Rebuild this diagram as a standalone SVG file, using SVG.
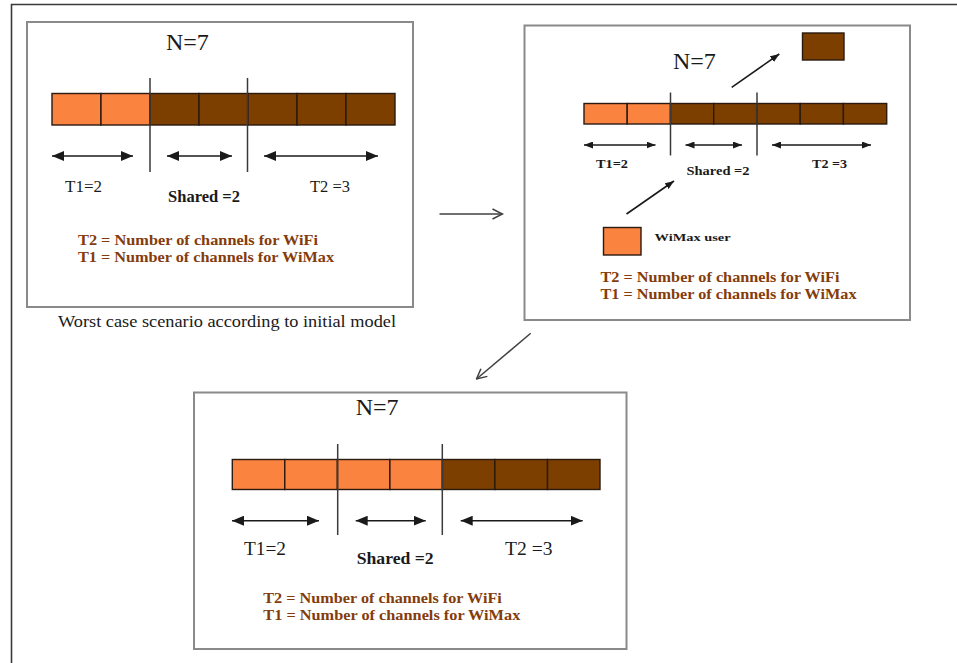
<svg xmlns="http://www.w3.org/2000/svg" width="957" height="663" viewBox="0 0 957 663">
  <defs>
    <style>
      .frame { fill: none; stroke: #3a3a3a; stroke-width: 1.6; }
      .panel { fill: #ffffff; stroke: #8a8a8a; stroke-width: 2; }
      .wimax { fill: #fb8340; stroke: #2a1a10; stroke-width: 1.4; }
      .wifi { fill: #7c3f00; stroke: #2a1a10; stroke-width: 1.4; }
      .div { stroke: #3a3a3a; stroke-width: 1.5; }
      .span { stroke: #1a1a1a; stroke-width: 1.6; fill: none; }
      .link { stroke: #404040; stroke-width: 1.5; fill: none; }
      text { font-family: 'Liberation Serif', 'DejaVu Serif', serif; }
      .big { font-size: 24px; fill: #1a1a1a; }
      .lbl { fill: #1a1a1a; }
      .bold { font-weight: bold; fill: #1a1a1a; }
      .legend { font-weight: bold; font-size: 15px; fill: #843c0c; }
    </style>
    <marker id="tipL" viewBox="0 0 12 10" refX="12" refY="5" markerWidth="12" markerHeight="10" markerUnits="userSpaceOnUse" orient="auto-start-reverse">
      <path d="M0,0 L12,5 L0,10 z" fill="#1a1a1a"/>
    </marker>
    <marker id="tipS" viewBox="0 0 9 7" refX="9" refY="3.5" markerWidth="9" markerHeight="7" markerUnits="userSpaceOnUse" orient="auto-start-reverse">
      <path d="M0,0 L9,3.5 L0,7 z" fill="#1a1a1a"/>
    </marker>
    <marker id="chev" viewBox="0 0 12 12" refX="11" refY="6" markerWidth="12" markerHeight="12" markerUnits="userSpaceOnUse" orient="auto">
      <path d="M1,1 L11,6 L1,11" fill="none" stroke="#404040" stroke-width="1.5"/>
    </marker>
  </defs>

  <rect width="957" height="663" fill="#ffffff"/>
  <!-- outer frame, open on the right and bottom -->
  <path class="frame" d="M11.5,663 V4.5 H957"/>

  <!-- Panel 1: initial allocation -->
  <g id="panel-initial">
    <rect class="panel" x="27" y="22" width="386" height="285"/>
    <text class="big" x="166" y="50" font-family="Liberation Serif, DejaVu Serif, serif">N=7</text>
    <rect class="wimax" x="52" y="93.5" width="49" height="31.5"/>
    <rect class="wimax" x="101" y="93.5" width="49" height="31.5"/>
    <rect class="wifi" x="150" y="93.5" width="49" height="31.5"/>
    <rect class="wifi" x="199" y="93.5" width="49" height="31.5"/>
    <rect class="wifi" x="248" y="93.5" width="49" height="31.5"/>
    <rect class="wifi" x="297" y="93.5" width="49" height="31.5"/>
    <rect class="wifi" x="346" y="93.5" width="49" height="31.5"/>
    <line class="div" x1="150" y1="78" x2="150" y2="172"/>
    <line class="div" x1="247.5" y1="78" x2="247.5" y2="172"/>
    <line class="span" x1="52" y1="156" x2="133" y2="156" marker-start="url(#tipL)" marker-end="url(#tipL)"/>
    <line class="span" x1="167" y1="156" x2="232" y2="156" marker-start="url(#tipL)" marker-end="url(#tipL)"/>
    <line class="span" x1="264" y1="156" x2="378" y2="156" marker-start="url(#tipL)" marker-end="url(#tipL)"/>
    <text class="lbl" x="65" y="192" font-size="17" textLength="37" lengthAdjust="spacingAndGlyphs">T1=2</text>
    <text class="bold" x="168" y="202" font-size="16.5" textLength="72" lengthAdjust="spacingAndGlyphs">Shared =2</text>
    <text class="lbl" x="310" y="192" font-size="17" textLength="40" lengthAdjust="spacingAndGlyphs">T2 =3</text>
    <text class="legend" x="78" y="245" textLength="240" lengthAdjust="spacingAndGlyphs">T2 = Number of channels for WiFi</text>
    <text class="legend" x="78" y="262" textLength="256" lengthAdjust="spacingAndGlyphs">T1 = Number of channels for WiMax</text>
  </g>
  <text id="caption" class="lbl" x="58" y="327" font-size="16" textLength="338" lengthAdjust="spacingAndGlyphs">Worst case scenario according to initial model</text>

  <!-- Panel 2: WiMax user takes a shared channel -->
  <g id="panel-arrival">
    <rect class="panel" x="524.5" y="25.5" width="385.5" height="294.5"/>
    <text class="big" x="673" y="69">N=7</text>
    <rect class="wimax" x="584" y="103.5" width="43.2" height="20.5"/>
    <rect class="wimax" x="627.2" y="103.5" width="43.3" height="20.5"/>
    <rect class="wifi" x="670.5" y="103.5" width="43.2" height="20.5"/>
    <rect class="wifi" x="713.7" y="103.5" width="43.3" height="20.5"/>
    <rect class="wifi" x="757" y="103.5" width="43.2" height="20.5"/>
    <rect class="wifi" x="800.2" y="103.5" width="43.2" height="20.5"/>
    <rect class="wifi" x="843.4" y="103.5" width="43.3" height="20.5"/>
    <line class="div" x1="670.5" y1="92.5" x2="670.5" y2="155.5"/>
    <line class="div" x1="757" y1="92.5" x2="757" y2="155.5"/>
    <line class="span" x1="584" y1="145" x2="655.5" y2="145" stroke-width="1.3" marker-start="url(#tipS)" marker-end="url(#tipS)"/>
    <line class="span" x1="685.5" y1="145" x2="742" y2="145" stroke-width="1.3" marker-start="url(#tipS)" marker-end="url(#tipS)"/>
    <line class="span" x1="772" y1="145" x2="871" y2="145" stroke-width="1.3" marker-start="url(#tipS)" marker-end="url(#tipS)"/>
    <text class="bold" x="596" y="168" font-size="12.5" fill="#333" textLength="32" lengthAdjust="spacingAndGlyphs">T1=2</text>
    <text class="bold" x="686.5" y="175" font-size="13" textLength="63" lengthAdjust="spacingAndGlyphs">Shared =2</text>
    <text class="bold" x="812" y="168" font-size="12.5" fill="#333" textLength="35" lengthAdjust="spacingAndGlyphs">T2 =3</text>
    <rect class="wifi" x="802.5" y="33" width="41.5" height="27" stroke="#111" stroke-width="2.5"/>
    <line class="span" x1="731.7" y1="87.3" x2="779.3" y2="54" stroke-width="1.4" marker-end="url(#tipS)"/>
    <line class="span" x1="626.5" y1="214" x2="674" y2="181" stroke-width="1.4" marker-end="url(#tipS)"/>
    <rect class="wimax" x="603.5" y="227.5" width="37.5" height="27.5" stroke="#7c3f00" stroke-width="1.6"/>
    <text class="bold" x="654.6" y="241" font-size="10" textLength="76" lengthAdjust="spacingAndGlyphs">WiMax user</text>
    <text class="legend" x="600.5" y="282" textLength="239" lengthAdjust="spacingAndGlyphs">T2 = Number of channels for WiFi</text>
    <text class="legend" x="600.5" y="299" textLength="256" lengthAdjust="spacingAndGlyphs">T1 = Number of channels for WiMax</text>
  </g>

  <!-- Panel 3: resulting allocation -->
  <g id="panel-result">
    <rect class="panel" x="194" y="392.5" width="432.5" height="256.5"/>
    <text class="big" x="355.7" y="415">N=7</text>
    <rect class="wimax" x="232.3" y="459.5" width="52.5" height="30"/>
    <rect class="wimax" x="284.8" y="459.5" width="52.6" height="30"/>
    <rect class="wimax" x="337.4" y="459.5" width="52.5" height="30"/>
    <rect class="wimax" x="389.9" y="459.5" width="52.5" height="30"/>
    <rect class="wifi" x="442.4" y="459.5" width="52.5" height="30"/>
    <rect class="wifi" x="494.9" y="459.5" width="52.6" height="30"/>
    <rect class="wifi" x="547.5" y="459.5" width="52.5" height="30"/>
    <line class="div" x1="337.7" y1="444" x2="337.7" y2="535"/>
    <line class="div" x1="442.3" y1="444" x2="442.3" y2="535"/>
    <line class="span" x1="232" y1="520.7" x2="319" y2="520.7" marker-start="url(#tipL)" marker-end="url(#tipL)"/>
    <line class="span" x1="355.7" y1="520.7" x2="425.7" y2="520.7" marker-start="url(#tipL)" marker-end="url(#tipL)"/>
    <line class="span" x1="460.7" y1="520.7" x2="582.7" y2="520.7" marker-start="url(#tipL)" marker-end="url(#tipL)"/>
    <text class="lbl" x="244" y="555" font-size="18" textLength="42" lengthAdjust="spacingAndGlyphs">T1=2</text>
    <text class="bold" x="356.7" y="564" font-size="17.5" textLength="77" lengthAdjust="spacingAndGlyphs">Shared =2</text>
    <text class="lbl" x="505" y="555" font-size="18" textLength="47.5" lengthAdjust="spacingAndGlyphs">T2 =3</text>
    <text class="legend" x="263.3" y="603" textLength="238.5" lengthAdjust="spacingAndGlyphs">T2 = Number of channels for WiFi</text>
    <text class="legend" x="263.3" y="619.5" textLength="257" lengthAdjust="spacingAndGlyphs">T1 = Number of channels for WiMax</text>
  </g>

  <!-- flow between panels -->
  <g id="connectors">
    <line class="link" x1="439.5" y1="214" x2="502.5" y2="214" marker-end="url(#chev)"/>
    <line class="link" x1="530.7" y1="333.3" x2="476.5" y2="379" marker-end="url(#chev)"/>
  </g>
</svg>
